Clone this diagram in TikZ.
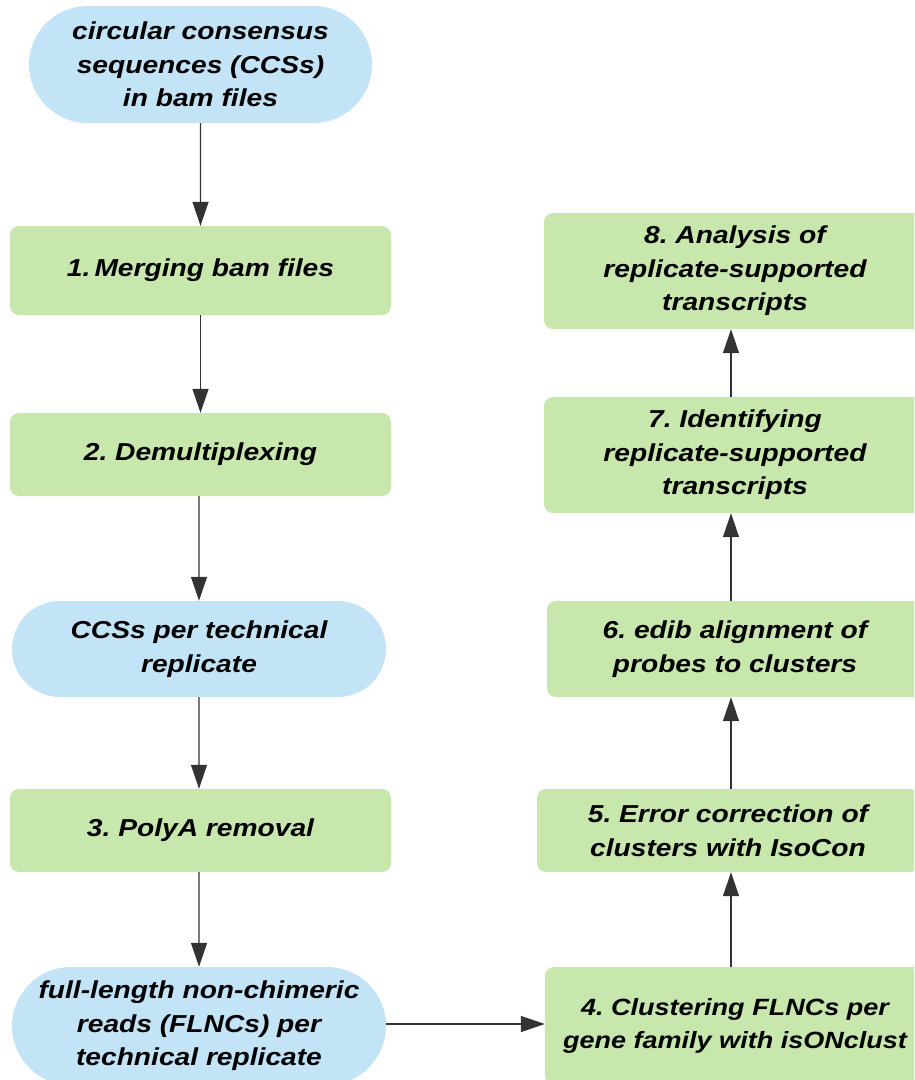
\documentclass[tikz,border=0pt]{standalone}
\usepackage{fontspec}
\setmainfont{Liberation Sans}[FakeStretch=1.15]
\usetikzlibrary{arrows.meta,shapes.misc}
\definecolor{cblue}{HTML}{C2E4F6}
\definecolor{cgreen}{HTML}{C7E7AD}
\definecolor{cink}{HTML}{333333}
\frenchspacing

\begin{document}
\begin{tikzpicture}[x=1pt, y=-1pt,
    every node/.style={font=\fontsize{24.5}{33.5}\selectfont\bfseries\itshape, align=center, inner sep=0pt},
    datanode/.style={rounded rectangle, fill=cblue, minimum width=#1},
    stepbox/.style={rectangle, rounded corners=9pt, fill=cgreen, minimum width=#1},
    flow/.style={cink, line width=1.3pt, -{Triangle[length=24pt,width=16pt]}}]
  \useasboundingbox (0,0) rectangle (914,1080);
  \clip (0,0) rectangle (914,1080);
  % left column
  \node[datanode=343, minimum height=117] (ccs) at (200.5,64.5)
        {circular consensus\\ sequences (CCSs)\\ in bam files};
  \node[stepbox=381, minimum height=89] (merge) at (200.5,270.5){1.\,Merging bam files};
  \node[stepbox=381, minimum height=83] (demux) at (200.5,454.5){2. Demultiplexing};
  \node[datanode=374, minimum height=96] (ccsrep) at (199,649)
        {CCSs per technical\\ replicate};
  \node[stepbox=381, minimum height=83] (polya) at (200.5,830.5){3. PolyA removal};
  \node[datanode=374, minimum height=118] (flnc) at (199,1026)
        {full-length non-chimeric\\ reads (FLNCs) per\\ technical replicate};
  % right column
  \node[stepbox=380, minimum height=118, font=\fontsize{23.5}{33.5}\selectfont\bfseries\itshape]
        (clust) at (735,1026)
        {4. Clustering FLNCs per\\ gene family with isONclust};
  \node[stepbox=382, minimum height=83] (isocon) at (728,830.5)
        {5. Error correction of\\ clusters with IsoCon};
  \node[stepbox=376, minimum height=96] (edib) at (735,649)
        {6. edib alignment of\\ probes to clusters};
  \node[stepbox=382, minimum height=116] (ident) at (735,455)
        {7. Identifying\\ replicate-supported\\ transcripts};
  \node[stepbox=382, minimum height=116] (anal) at (735,271)
        {8. Analysis of\\ replicate-supported\\ transcripts};
  % connectors
  \draw[flow] (ccs) -- (merge);
  \draw[flow] (merge) -- (demux);
  \draw[flow] (demux.south -| ccsrep) -- (ccsrep);
  \draw[flow] (ccsrep) -- (polya.north -| ccsrep);
  \draw[flow] (polya.south -| flnc) -- (flnc);
  \draw[flow] (flnc.east |- 0,1024) -- (clust.west |- 0,1024);
  \draw[flow] (clust.north -| 731,0) -- (isocon.south -| 731,0);
  \draw[flow] (isocon.north -| 731,0) -- (edib.south -| 731,0);
  \draw[flow] (edib.north -| 731,0) -- (ident.south -| 731,0);
  \draw[flow] (ident.north -| 731,0) -- (anal.south -| 731,0);
\end{tikzpicture}
\end{document}
